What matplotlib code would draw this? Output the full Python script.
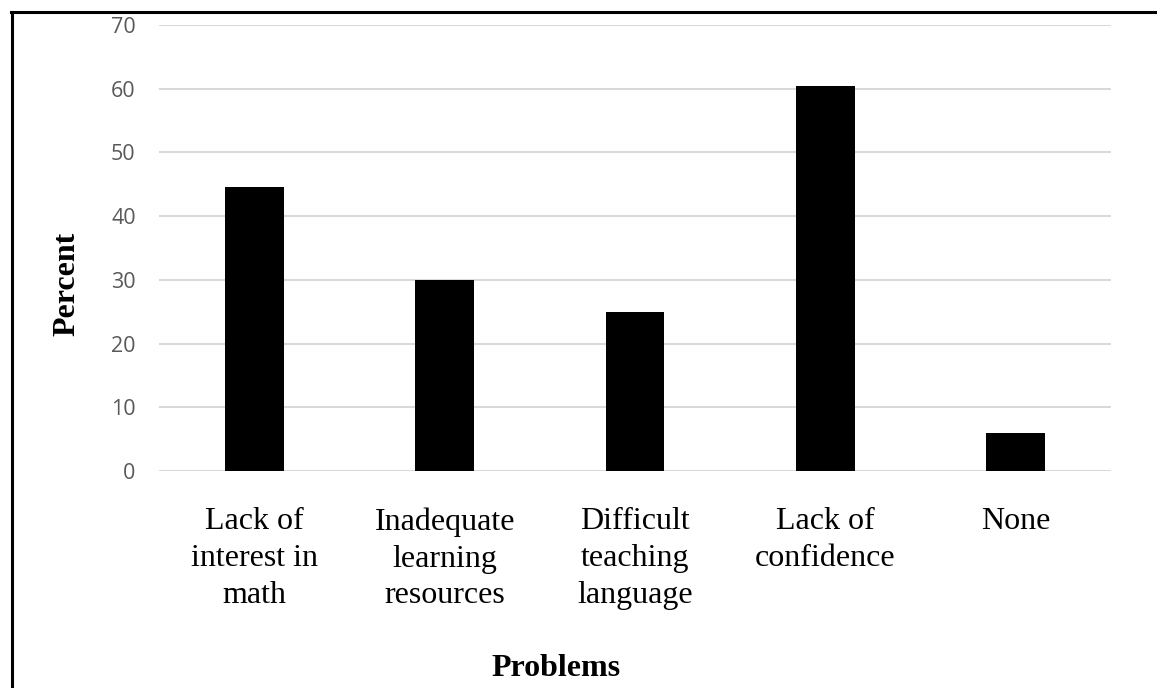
import matplotlib
matplotlib.use("Agg")
import matplotlib.pyplot as plt
from matplotlib.lines import Line2D

categories = ["Lack of\ninterest in\nmath", "Inadequate\nlearning\nresources",
              "Difficult\nteaching\nlanguage", "Lack of\nconfidence", "None"]
values = [44.5, 30, 25, 60.5, 6]
yticks = [0, 10, 20, 30, 40, 50, 60, 70]

W, H = 1157, 688
fig = plt.figure(figsize=(W / 100, H / 100), dpi=100)
ax = fig.add_axes([159.3 / W, (H - 471) / H, (1110.7 - 159.3) / W, (471 - 25) / H])

x = range(len(categories))
ax.bar(x, values, width=0.31, color="black", zorder=3)
ax.set_xlim(-0.5, 4.5)
ax.set_ylim(0, 70)
ax.set_yticks(yticks)
ax.set_yticklabels([str(t) for t in yticks], family="Open Sans", fontsize=15.5, color="#595959")
ax.set_xticks(list(x))
ax.set_xticklabels(categories, family="Liberation Serif", fontsize=23, color="black", linespacing=1.36)
ax.tick_params(axis="y", length=0, pad=17)
ax.tick_params(axis="x", length=0, pad=26)
for s in ax.spines.values():
    s.set_visible(False)
ax.yaxis.grid(True, color="#d9d9d9", linewidth=1.5, zorder=0)
ax.set_axisbelow(True)

fig.text(67 / W, 1 - 284 / H, "Percent", rotation=90, ha="center", va="center",
         family="Liberation Serif", fontsize=23, fontweight="bold")
fig.text(556 / W, 1 - 668 / H, "Problems", ha="center", va="center",
         family="Liberation Serif", fontsize=23, fontweight="bold")

fig.add_artist(Line2D([12 / W, 12 / W], [0, 1 - 11.5 / H], color="black", linewidth=2.2,
                      transform=fig.transFigure))
fig.add_artist(Line2D([11 / W, 1], [1 - 11.5 / H, 1 - 11.5 / H], color="black", linewidth=2.2,
                      transform=fig.transFigure))

fig.savefig("out.png", dpi=100)
